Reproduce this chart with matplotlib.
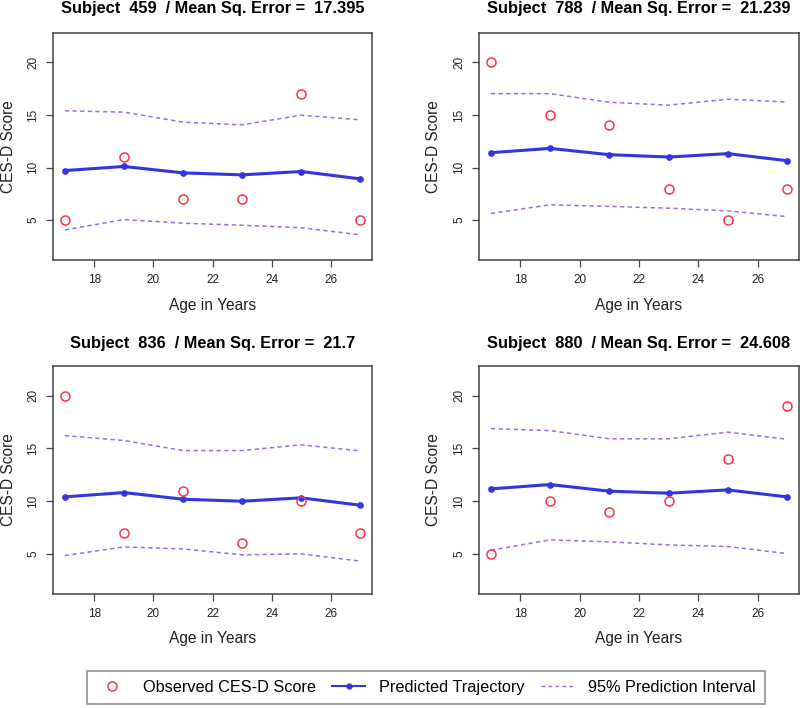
import matplotlib
matplotlib.use('Agg')
import matplotlib.pyplot as plt
from matplotlib.lines import Line2D

plt.rcParams['font.family'] = ['Liberation Sans', 'DejaVu Sans']

# ages at each wave
ages = [17, 19, 21, 23, 25, 27]

subjects = ['459', '788', '836', '880']
mse = ['17.395', '21.239', '21.7', '24.608']

# observed CES-D scores
obs_459 = [5, 11, 7, 7, 17, 5]
obs_788 = [20, 15, 14, 8, 5, 8]
obs_836 = [20, 7, 11, 6, 10, 7]
obs_880 = [5, 10, 9, 10, 14, 19]

# predicted trajectories
pred_459 = [9.71, 10.10, 9.49, 9.30, 9.62, 8.92]
pred_788 = [11.41, 11.82, 11.22, 11.00, 11.32, 10.65]
pred_836 = [10.40, 10.81, 10.18, 9.99, 10.31, 9.61]
pred_880 = [11.16, 11.57, 10.94, 10.75, 11.06, 10.40]

# 95% prediction interval
upper_459 = [15.40, 15.27, 14.32, 14.06, 14.98, 14.54]
lower_459 = [4.06, 5.05, 4.70, 4.51, 4.27, 3.60]
upper_788 = [17.03, 17.03, 16.21, 15.93, 16.50, 16.24]
lower_788 = [5.63, 6.45, 6.30, 6.13, 5.87, 5.33]
upper_836 = [16.21, 15.74, 14.79, 14.79, 15.33, 14.76]
lower_836 = [4.84, 5.66, 5.47, 4.91, 5.00, 4.31]
upper_880 = [16.87, 16.68, 15.90, 15.90, 16.53, 15.86]
lower_880 = [5.35, 6.33, 6.14, 5.85, 5.70, 5.03]

observed = [obs_459, obs_788, obs_836, obs_880]
predicted = [pred_459, pred_788, pred_836, pred_880]
upper = [upper_459, upper_788, upper_836, upper_880]
lower = [lower_459, lower_788, lower_836, lower_880]

red = '#F2384A'
blue = '#3434E0'
purple = '#A06CE0'
frame = '#444444'

fig = plt.figure(figsize=(8, 7.08), dpi=100)

# axes boxes in pixels: left, top, right, bottom
boxes = [(53, 33, 372, 260), (479, 33, 799, 260),
         (53, 366, 372, 594), (479, 366, 799, 594)]
title_base = [13.5, 13.5, 348, 348]

for i in range(4):
	l, t, r, b = boxes[i]
	ax = fig.add_axes([l/800, 1-b/708, (r-l)/800, (b-t)/708])
	ax.plot(ages, upper[i], color=purple, lw=1.1, dashes=(2.8, 2.2))
	ax.plot(ages, lower[i], color=purple, lw=1.1, dashes=(2.8, 2.2))
	ax.plot(ages, predicted[i], '-o', color=blue, lw=2.2, ms=3.8)
	ax.plot(ages, observed[i], 'o', mfc='none', mec=red, ms=6.5, mew=1.1)
	ax.set_xlim(16.6, 27.4)
	ax.set_ylim(1.2, 22.8)
	ax.set_xticks([18, 20, 22, 24, 26])
	ax.set_yticks([5, 10, 15, 20])
	ax.tick_params(length=5, width=0.9, color=frame, labelsize=8.5, labelcolor='#222222')
	ax.tick_params(axis='x', pad=5)
	ax.tick_params(axis='y', pad=5)
	for lab in ax.get_yticklabels():
		lab.set_rotation(90)
		lab.set_va('center')
	for s in ax.spines.values():
		s.set_color(frame)
		s.set_linewidth(1.1)
	ax.set_xlabel('Age in Years', fontsize=11.2, color='#222222', va='center')
	ax.xaxis.set_label_coords(0.5, -45/(b-t))
	ax.set_ylabel('CES-D Score', fontsize=11.2, color='#222222', va='center')
	ax.yaxis.set_label_coords(-45/(r-l), 0.5)
	fig.text((l+r)/2/800, 1-title_base[i]/708,
		'Subject  ' + subjects[i] + '  / Mean Sq. Error =  ' + mse[i],
		ha='center', va='baseline', fontsize=11.8, fontweight='bold')

handles = [Line2D([], [], ls='none', marker='o', mfc='none', mec=red, ms=6.5, mew=1.1),
           Line2D([], [], color=blue, lw=1.5, marker='o', ms=3.5),
           Line2D([], [], color=purple, lw=1.0, dashes=(2.8, 2.2))]
labels = ['Observed CES-D Score', 'Predicted Trajectory', '95% Prediction Interval']
leg = fig.legend(handles, labels, loc='center', bbox_to_anchor=(426/800, 1-687.5/708),
	ncol=3, fontsize=11.7, frameon=True, fancybox=False, handlelength=2.0,
	handletextpad=0.9, columnspacing=1.0, borderpad=0.55)
leg.get_frame().set_edgecolor('#777777')
leg.get_frame().set_linewidth(1.2)

fig.savefig('out.png', dpi=100)
